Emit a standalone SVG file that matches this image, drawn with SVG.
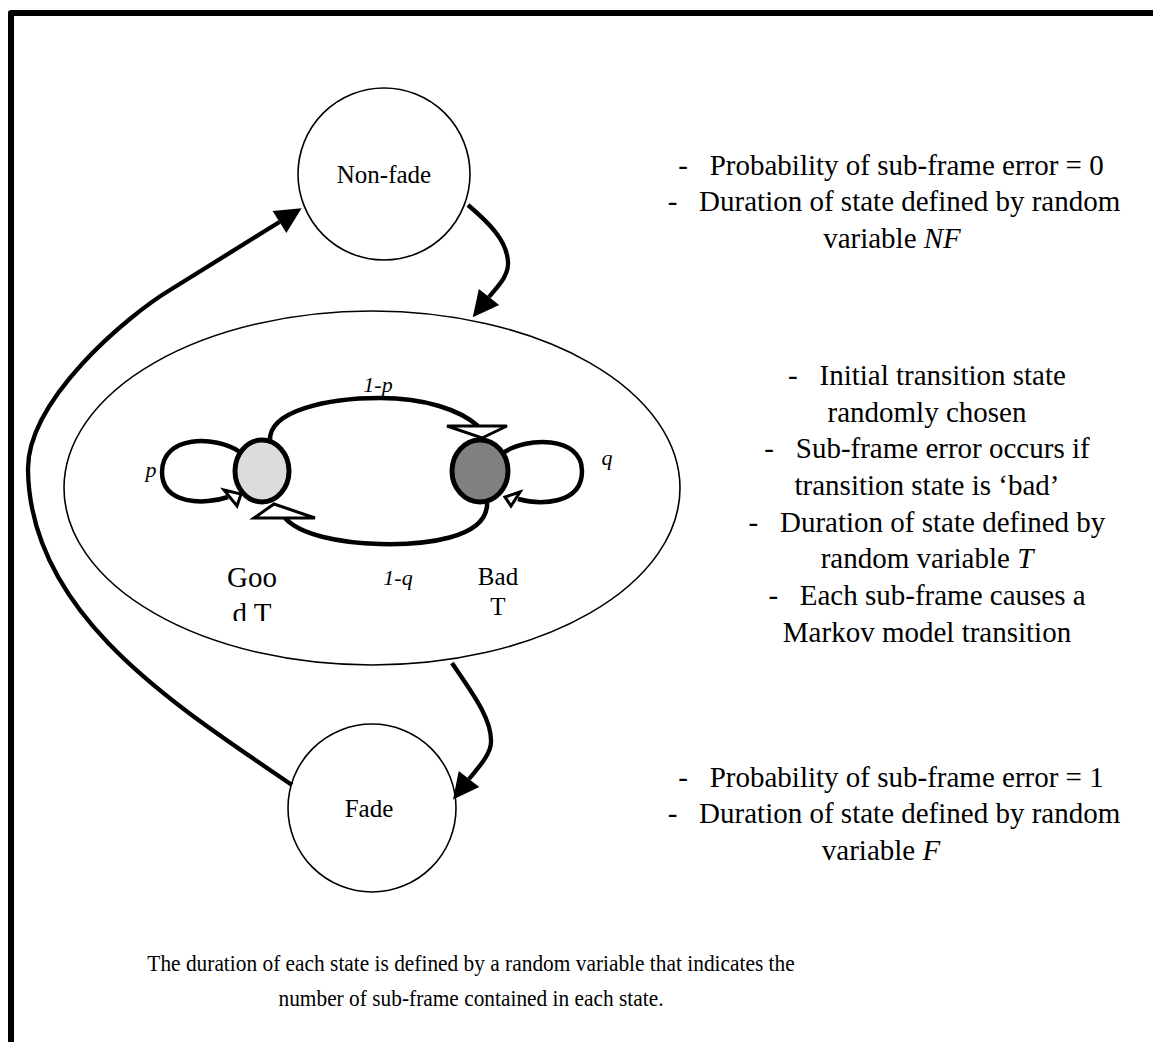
<svg xmlns="http://www.w3.org/2000/svg" width="1153" height="1042" viewBox="0 0 1153 1042" font-family="'Liberation Serif', 'DejaVu Serif', serif">
  <style>
    text { font-family: 'Liberation Serif', 'DejaVu Serif', serif; fill: #000; }
    .frame { fill: none; stroke: #000; stroke-width: 6; stroke-linejoin: round; }
    .state { fill: #fff; stroke: #000; stroke-width: 1.6; }
    .region { fill: none; stroke: #000; stroke-width: 1.6; }
    .flow { fill: none; stroke: #000; stroke-width: 4.3; marker-end: url(#solid); }
    .arc { fill: none; stroke: #000; stroke-width: 4.5; }
    .open { fill: #fff; stroke: #000; stroke-width: 3; stroke-linejoin: miter; }
    .markov { stroke: #000; stroke-width: 5; }
    .note { font-size: 29px; text-anchor: middle; }
    .name { font-size: 25px; text-anchor: middle; }
    .big { font-size: 29px; text-anchor: middle; }
    .lbl { font-size: 22px; font-style: italic; text-anchor: middle; }
    .foot { font-size: 22.5px; text-anchor: middle; }
    .it { font-style: italic; }
  </style>
  <defs>
    <!-- solid arrowhead; path ends at the base, tip sits 25px further on -->
    <marker id="solid" markerUnits="userSpaceOnUse" markerWidth="26" markerHeight="26"
            viewBox="0 0 25 25" refX="0" refY="12.5" orient="auto" overflow="visible">
      <path d="M0,0 L25,12.5 L0,25 Z" fill="#000"/>
    </marker>
    <!-- the "Good T" text box is too short, so its second line is cut off -->
    <clipPath id="goodClip">
      <rect x="195" y="540" width="115" height="81"/>
    </clipPath>
  </defs>

  <!-- page frame: left and top rules only -->
  <path class="frame" d="M11 1042 V13 H1153"/>

  <!-- outer states -->
  <g id="nonfade">
    <circle class="state" cx="384" cy="174" r="86"/>
    <text class="name" x="384" y="183">Non-fade</text>
  </g>

  <g id="transition">
    <ellipse class="region" cx="372" cy="488" rx="308" ry="177"/>
  </g>

  <g id="fade">
    <circle class="state" cx="372" cy="808" r="84"/>
    <text class="name" x="369" y="817">Fade</text>
  </g>

  <!-- two-state Markov model inside the transition state -->
  <g id="good">
    <ellipse class="markov" cx="262" cy="471" rx="27" ry="31" fill="#dcdcdc"/>
    <g clip-path="url(#goodClip)">
      <text class="big" x="252" y="587">Goo</text>
      <text class="big" x="252" y="623">d T</text>
    </g>
  </g>

  <g id="bad">
    <ellipse class="markov" cx="480" cy="471" rx="28" ry="31" fill="#808080"/>
    <text class="name" x="498" y="585">Bad</text>
    <text class="name" x="498" y="615">T</text>
  </g>

  <g id="connectors">
    <!-- Non-fade to transition -->
    <path class="flow" d="M468 205 C488 222, 507 240, 508 262 C509 276, 497 287, 489 297"/>
    <!-- transition to Fade -->
    <path class="flow" d="M452 663 C470 690, 492 718, 491 742 C491 755, 476 770, 469 779"/>
    <!-- Fade back to Non-fade -->
    <path class="flow" d="M292 785 C175 705, 30 615, 28 470 C27 400, 127 316, 170 290 L279.5 222"/>

    <!-- good to bad (1-p) -->
    <path class="arc" d="M270 441 C268 410, 330 398, 380 398 C425 398, 460 410, 478 426"/>
    <polygon class="open" points="447,426 507,426 482,438"/>
    <!-- bad to good (1-q) -->
    <path class="arc" d="M487 501 C490 540, 420 545, 380 544 C340 543, 300 535, 285 518"/>
    <polygon class="open" points="254,518 315,518 274,504"/>
    <!-- good self loop (p) -->
    <path class="arc" d="M240 452 C215 435, 162 435, 162 472 C162 505, 205 505, 228 497"/>
    <polygon class="open" points="224,490 241,494 237,506"/>
    <!-- bad self loop (q) -->
    <path class="arc" d="M503 453 C525 437, 582 435, 582 471 C582 505, 540 505, 518 499"/>
    <polygon class="open" points="520,492 505,497 511,506"/>

    <text class="lbl" x="378" y="392">1-p</text>
    <text class="lbl" x="398" y="585">1-q</text>
    <text class="lbl" x="151" y="477">p</text>
    <text class="lbl" x="607" y="465">q</text>
  </g>

  <!-- state descriptions -->
  <g id="note-nonfade">
    <text class="note" x="891" y="175">-&#160;&#160;&#160;Probability of sub-frame error = 0</text>
    <text class="note" x="894" y="211">-&#160;&#160;&#160;Duration of state defined by random</text>
    <text class="note" x="892" y="248">variable <tspan class="it">NF</tspan></text>
  </g>

  <g id="note-transition">
    <text class="note" x="927" y="385">-&#160;&#160;&#160;Initial transition state</text>
    <text class="note" x="927" y="422">randomly chosen</text>
    <text class="note" x="927" y="458">-&#160;&#160;&#160;Sub-frame error occurs if</text>
    <text class="note" x="927" y="495">transition state is ‘bad’</text>
    <text class="note" x="927" y="532">-&#160;&#160;&#160;Duration of state defined by</text>
    <text class="note" x="927" y="568">random variable <tspan class="it">T</tspan></text>
    <text class="note" x="927" y="605">-&#160;&#160;&#160;Each sub-frame causes a</text>
    <text class="note" x="927" y="642">Markov model transition</text>
  </g>

  <g id="note-fade">
    <text class="note" x="891" y="787">-&#160;&#160;&#160;Probability of sub-frame error = 1</text>
    <text class="note" x="894" y="823">-&#160;&#160;&#160;Duration of state defined by random</text>
    <text class="note" x="881" y="860">variable <tspan class="it">F</tspan></text>
  </g>

  <!-- caption, set slightly condensed -->
  <g id="footnote" transform="translate(471 0) scale(0.95 1) translate(-471 0)">
    <text class="foot" x="471" y="971">The duration of each state is defined by a random variable that indicates the</text>
    <text class="foot" x="471" y="1006">number of sub-frame contained in each state.</text>
  </g>
</svg>
